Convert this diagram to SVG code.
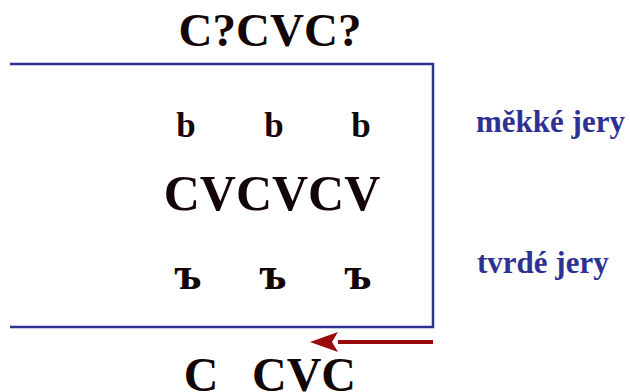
<svg xmlns="http://www.w3.org/2000/svg" width="630" height="392" viewBox="0 0 630 392">
<style>
.t{font-family:"Liberation Serif","Times New Roman",serif;font-weight:bold;fill:#140606;text-anchor:middle}
.lab{font-family:"Liberation Serif","Times New Roman",serif;font-weight:bold;fill:#2e3192;font-size:31px}
.box{fill:none;stroke:#2e3192;stroke-width:2.5}
</style>
<defs>
<marker id="ah" markerWidth="28" markerHeight="20" refX="0" refY="10" orient="auto" markerUnits="userSpaceOnUse">
<path d="M0,0 L28,10 L0,20 L6,10 Z" fill="#990a0a"/>
</marker>
</defs>
<rect width="630" height="392" fill="#ffffff"/>
<g id="box"><path class="box" d="M10,64 H433 V327 H10"/></g>
<g id="top"><text class="t" x="270" y="46" font-size="47">C?CVC?</text></g>
<g id="soft"><text class="t" x="186" y="137" font-size="35">b</text><text class="t" x="274" y="137" font-size="35">b</text><text class="t" x="361" y="137" font-size="35">b</text></g>
<g id="cv"><text class="t" x="272" y="210" font-size="50">CVCVCV</text></g>
<g id="hard"><text class="t" x="188" y="289" font-size="46">ъ</text><text class="t" x="273" y="289" font-size="46">ъ</text><text class="t" x="358" y="289" font-size="46">ъ</text></g>
<g id="bottom"><text class="t" x="201" y="391" font-size="48">C</text><text class="t" x="304" y="391" font-size="48">CVC</text></g>
<g id="labels"><text class="lab" x="476" y="132">měkké jery</text><text class="lab" x="477" y="273">tvrdé jery</text></g>
<g id="connectors"><line x1="433" y1="342" x2="338" y2="342" stroke="#990a0a" stroke-width="4" marker-end="url(#ah)"/></g>
</svg>
